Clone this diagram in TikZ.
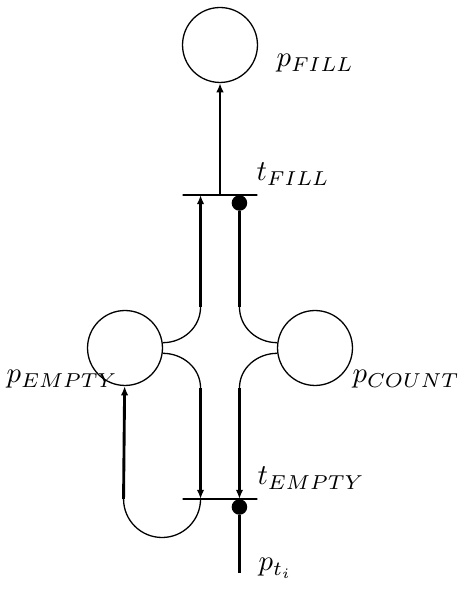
\documentclass[tikz,border=0pt]{standalone}
\usetikzlibrary{calc,arrows.meta}

\begin{document}
\begin{tikzpicture}[x=0.0122cm,y=0.0122cm,
  place/.style={draw,circle,line width=0.45pt,minimum size=0.915cm,inner sep=0pt},
  trans/.style={draw,line width=1pt,minimum width=0.915cm,minimum height=0pt,inner sep=0pt},
  tok/.style={circle,fill,minimum size=0.19cm,inner sep=0pt},
  arcline/.style={line width=1pt},
  bendline/.style={line width=0.45pt},
  tip/.style={-{Latex[length=3.2pt,width=2.6pt]}},
  lbl/.style={anchor=base west,inner sep=0pt}]
\useasboundingbox (0,0) rectangle (458,593);
% places and transitions
\node[place] (pfill) at (220,548) {};
\node[trans] (tfill) at (220,398) {};
\node[place] (pempty) at (125,245) {};
\node[place] (pcount) at (315,245) {};
\node[trans] (tempty) at (220,94) {};
\coordinate (fillL) at ($(tfill.west)!.25!(tfill.east)$);
\coordinate (fillR) at ($(tfill.west)!.75!(tfill.east)$);
\coordinate (emptyL) at ($(tempty.west)!.25!(tempty.east)$);
\coordinate (emptyR) at ($(tempty.west)!.75!(tempty.east)$);
\node[tok] (dfill) at ($(fillR)+(0,-8)$) {};
\node[tok] (dempty) at ($(emptyR)+(0,-8)$) {};
% bend points
\coordinate (bendLU) at ($(fillL)+(0,-112)$);
\coordinate (bendRU) at ($(fillR)+(0,-112)$);
\coordinate (bendLD) at ($(emptyL)+(0,111)$);
\coordinate (bendRD) at ($(emptyR)+(0,111)$);
\coordinate (pti) at ($(emptyR)+(0,-74)$);
% arcs
\draw[arcline,tip] (tfill) -- (pfill);
\draw[bendline] (pempty.8) to[out=0,in=-90] (bendLU);
\draw[bendline] (pempty.-8) to[out=0,in=90] (bendLD);
\draw[bendline] (pcount.172) to[out=180,in=-90] (bendRU);
\draw[bendline] (pcount.188) to[out=180,in=90] (bendRD);
\draw[arcline,tip] (bendLU) -- (fillL);
\draw[arcline] (bendRU) -- (dfill);
\draw[arcline,tip] (bendLD) -- (emptyL);
\draw[arcline,tip] (bendRD) -- (emptyR);
\draw[arcline] (dempty) -- (pti);
\draw[bendline] (emptyL) arc[start angle=0,end angle=-180,radius=38.5] coordinate (loopL);
\draw[arcline,tip] (loopL) -- (pempty);
% labels
\node[lbl] (lpfill) at (276,526) {$p_{FILL}$};
\node[lbl] (ltfill) at (256,412) {$t_{FILL}$};
\node[lbl] (lpempty) at (6,210) {$p_{EMPTY}$};
\node[lbl] (lpcount) at (352,210) {$p_{COUNT}$};
\node[lbl] (ltempty) at (257,108) {$t_{EMPTY}$};
\node[lbl] (lpti) at (258,22) {$p_{t_i}$};
\end{tikzpicture}
\end{document}
